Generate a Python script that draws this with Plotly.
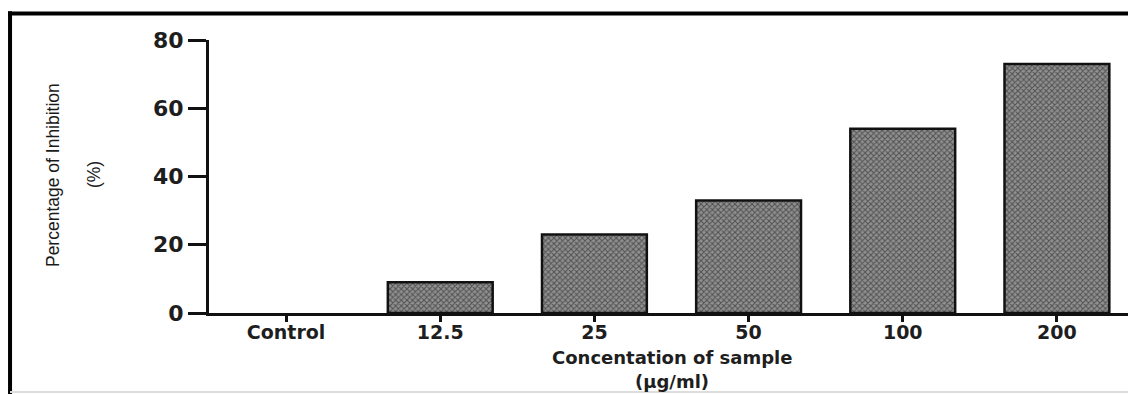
import plotly.graph_objects as go

categories = ["Control", "12.5", "25", "50", "100", "200"]
inhibition = [0, 9, 23, 33, 54, 73]
y_ticks = [0, 20, 40, 60, 80]

outline_w = [0 if v == 0 else 2.5 for v in inhibition]

fig = go.Figure()
fig.add_trace(go.Bar(
    x=categories, y=inhibition, width=0.68,
    marker=dict(color="#ffffff",
                line=dict(color="#111111", width=outline_w),
                pattern=dict(shape="x", fgcolor="#111111", bgcolor="#909090",
                             size=4, solidity=0.45)),
    showlegend=False,
))

tick_font = dict(family="DejaVu Sans", size=19, color="#1e1e1e", weight="bold")

fig.update_layout(
    width=1128, height=386,
    margin=dict(l=201, r=2, t=32, b=81),
    paper_bgcolor="white", plot_bgcolor="white",
    xaxis=dict(
        type="category", range=[-0.5, 5.5],
        showline=True, linecolor="#111111", linewidth=3,
        ticks="outside", ticklen=6, tickwidth=3, tickcolor="#111111",
        tickfont=tick_font, ticklabelstandoff=-6,
        showgrid=False, zeroline=False,
    ),
    yaxis=dict(
        range=[0, 80], tickvals=y_ticks,
        showline=True, linecolor="#111111", linewidth=3,
        ticks="outside", ticklen=18, tickwidth=3, tickcolor="#111111",
        tickfont=dict(family="DejaVu Sans", size=22, color="#1e1e1e", weight="bold"),
        showgrid=False, zeroline=False,
    ),
)

# axis titles
title_x_font = dict(family="DejaVu Sans", size=18, color="#1e1e1e", weight="bold")
fig.add_annotation(text="Concentation of sample", xref="paper", yref="paper",
                   x=0.5, y=-0.1648, showarrow=False, font=title_x_font, borderpad=0,
                   xanchor="center", yanchor="middle")
fig.add_annotation(text="(μg/ml)", xref="paper", yref="paper",
                   x=0.5, y=-0.2527, showarrow=False, font=title_x_font, borderpad=0,
                   xanchor="center", yanchor="middle")
title_y_font = dict(family="Liberation Sans, Arial", size=17.5, color="#1a1a1a")
fig.add_annotation(text="Percentage of Inhibition", xref="paper", yref="paper",
                   x=-0.1686, y=0.5055, showarrow=False, textangle=-90, font=title_y_font,
                   xanchor="center", yanchor="middle")
fig.add_annotation(text="(%)", xref="paper", yref="paper",
                   x=-0.1243, y=0.5055, showarrow=False, textangle=-90, font=title_y_font,
                   xanchor="center", yanchor="middle")

# outer frame lines (paper coordinates)
fig.add_shape(type="line", xref="paper", yref="paper", x0=-0.2173, x1=1.01, y0=1.097, y1=1.097,
              line=dict(color="black", width=4))
fig.add_shape(type="line", xref="paper", yref="paper", x0=-0.2151, x1=-0.2151, y0=1.105, y1=-0.30,
              line=dict(color="black", width=4))
fig.add_shape(type="line", xref="paper", yref="paper", x0=-0.2151, x1=1.01, y0=-0.289, y1=-0.289,
              line=dict(color="#dddddd", width=2))

fig.write_html("out.html")
